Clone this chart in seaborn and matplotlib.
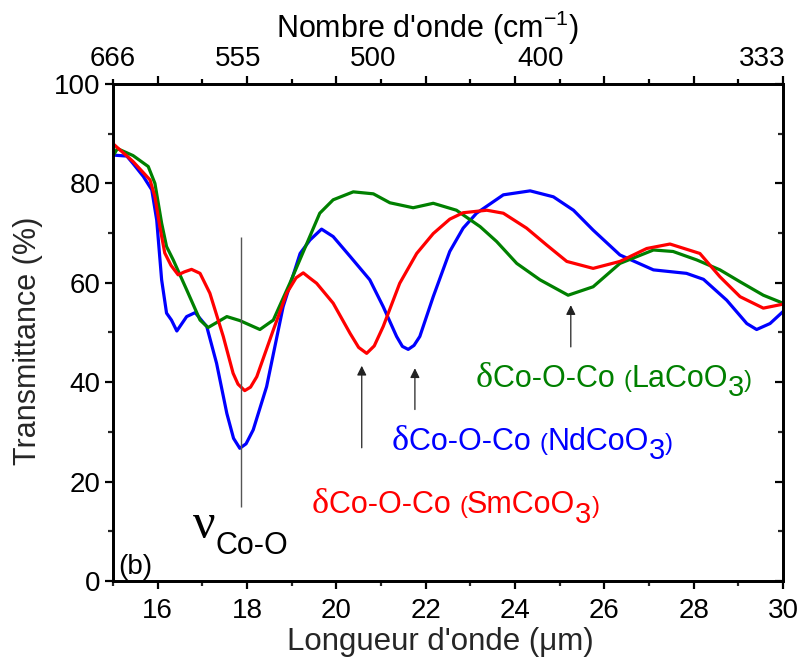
import matplotlib
matplotlib.use("Agg")
import matplotlib.pyplot as plt
import seaborn as sns
import numpy as np

# Spectra (wavelength in µm, transmittance in %)
sm_x = [15.0, 15.45, 15.83, 15.94, 16.05, 16.16, 16.3, 16.46, 16.6, 16.76, 16.95,
        17.17, 17.47, 17.69, 17.8, 17.95, 18.08, 18.22, 18.59, 18.89, 19.1, 19.26,
        19.4, 19.56, 19.93, 20.31, 20.5, 20.68, 20.85, 21.05, 21.42, 21.8, 22.17,
        22.54, 22.84, 23.37, 23.74, 24.26, 24.71, 25.16, 25.75, 26.35, 26.95, 27.47,
        28.14, 28.59, 29.04, 29.56, 30.0]
sm_y = [88.0, 84.4, 80.7, 77.3, 71.3, 66.0, 63.5, 61.6, 62.2, 62.7, 61.9,
        57.9, 49.2, 41.8, 39.6, 38.3, 39.0, 41.1, 50.5, 57.9, 61.0, 62.0,
        61.0, 59.9, 55.9, 49.8, 47.0, 45.8, 47.3, 51.2, 59.9, 65.9, 69.9,
        72.8, 74.1, 74.6, 74.0, 71.0, 67.6, 64.3, 62.9, 64.3, 66.9, 67.8,
        65.9, 61.2, 57.2, 54.9, 55.7]

nd_x = [15.0, 15.31, 15.45, 15.68, 15.87, 15.98, 16.09, 16.2, 16.31, 16.43, 16.65,
        16.84, 17.1, 17.32, 17.55, 17.7, 17.84, 17.98, 18.14, 18.44, 18.81, 19.19,
        19.41, 19.67, 19.93, 20.31, 20.75, 21.05, 21.35, 21.48, 21.61, 21.74, 21.87,
        22.17, 22.54, 22.84, 23.14, 23.74, 24.34, 24.86, 25.31, 25.75, 26.35, 27.1,
        27.84, 28.22, 28.74, 29.19, 29.41, 29.71, 30.0]
nd_y = [85.7, 85.5, 84.0, 81.4, 78.7, 72.6, 60.6, 53.9, 52.5, 50.3, 53.2,
        54.0, 51.2, 43.8, 33.7, 28.7, 26.7, 27.6, 30.4, 39.1, 55.2, 65.9,
        68.6, 70.8, 69.3, 65.3, 60.6, 55.2, 49.2, 47.2, 46.6, 47.4, 49.2,
        57.2, 66.3, 71.0, 74.0, 77.7, 78.5, 77.3, 74.6, 70.6, 65.6, 62.6,
        61.9, 60.7, 56.5, 51.8, 50.6, 51.8, 54.2]

la_x = [15.0, 15.1, 15.45, 15.79, 15.94, 16.09, 16.2, 16.35, 16.65, 16.95, 17.13,
        17.55, 17.84, 18.29, 18.59, 18.96, 19.34, 19.63, 19.93, 20.38, 20.83, 21.2,
        21.72, 22.17, 22.69, 23.22, 23.59, 24.04, 24.56, 25.19, 25.75, 26.35, 27.1,
        27.54, 28.07, 28.59, 29.04, 29.56, 30.0]
la_y = [85.5, 87.0, 85.6, 83.4, 80.0, 72.0, 67.3, 64.6, 58.6, 52.5, 51.0,
        53.2, 52.4, 50.6, 52.5, 59.9, 67.9, 74.0, 76.7, 78.3, 77.9, 76.1,
        75.1, 76.0, 74.6, 71.3, 68.3, 63.9, 60.6, 57.5, 59.2, 63.9, 66.6,
        66.3, 64.6, 62.6, 60.2, 57.5, 55.9]

# top axis (wavenumber) labels and where they sit along the wavelength axis
top_labels = ["666", "555", "500", "400", "333"]
top_label_pos = [15.0, 17.8, 20.82, 24.58, 29.53]

# band markers
arrow_x = [20.57, 21.76, 25.25]
arrow_from = [26.8, 34.5, 47.1]
arrow_to = [43.3, 42.8, 55.5]
nu_line_x = 17.87
nu_line_y = (14.9, 69.3)

sns.set_theme(style="ticks")
plt.rcParams['font.family'] = ['Liberation Sans', 'DejaVu Sans']
plt.rcParams['mathtext.fontset'] = 'custom'
plt.rcParams['mathtext.rm'] = 'Liberation Sans'
plt.rcParams['axes.linewidth'] = 1.8

SERIF = ['Liberation Serif', 'DejaVu Serif']
SANS = ['Liberation Sans', 'DejaVu Sans']

fig = plt.figure(figsize=(8.01, 6.62), dpi=100)
ax = fig.add_axes([0.141, 0.1224, 0.8365, 0.7507])

sns.lineplot(x=nd_x, y=nd_y, color='#0000FF', lw=2.3, sort=False, estimator=None, ax=ax)
sns.lineplot(x=la_x, y=la_y, color='#008000', lw=2.3, sort=False, estimator=None, ax=ax)
sns.lineplot(x=sm_x, y=sm_y, color='#FF0000', lw=2.3, sort=False, estimator=None, ax=ax)

ax.set_xlim(15, 30)
ax.set_ylim(0, 100)
ax.set_xticks(np.arange(16, 31, 2))
ax.set_xticks(np.arange(15, 31, 1), minor=True)
ax.set_yticks(np.arange(0, 101, 20))
ax.set_yticks(np.arange(0, 101, 10), minor=True)
ax.tick_params(axis='both', which='major', direction='out', length=6, width=1.6,
               labelsize=20, colors='black')
ax.tick_params(axis='both', which='minor', direction='out', length=3.5, width=1.6)
ax.tick_params(axis='x', pad=6)
ax.tick_params(axis='y', pad=3)
for s in ax.spines.values():
    s.set_visible(True)
    s.set_color('black')
    s.set_linewidth(1.8)

ax.set_xlabel("Longueur d'onde (μm)", fontsize=22.5)
ax.set_ylabel("Transmittance (%)", fontsize=22)
ax.xaxis.set_label_coords(0.488, -0.093)
ax.yaxis.set_label_coords(-0.104, 0.483)

# right axis: inward ticks, no labels
rax = ax.twinx()
rax.set_ylim(0, 100)
rax.set_yticks(np.arange(0, 101, 20))
rax.set_yticks(np.arange(0, 101, 10), minor=True)
rax.tick_params(axis='y', which='major', direction='in', length=6, width=1.6,
                right=True, left=False, labelright=False, colors='black')
rax.tick_params(axis='y', which='minor', direction='in', length=3.5, width=1.6,
                right=True, left=False)
rax.grid(False)

# top axis: same wavelength ticks, outward
tax = ax.twiny()
tax.set_xlim(15, 30)
tax.set_xticks(np.arange(16, 31, 2))
tax.set_xticks(np.arange(15, 31, 1), minor=True)
tax.xaxis.set_ticks_position('top')
tax.tick_params(axis='x', which='major', direction='out', length=6, width=1.6,
                labeltop=False, color='black')
tax.tick_params(axis='x', which='minor', direction='out', length=3.5, width=1.6,
                color='black')
tax.grid(False)
for a in (rax, tax):
    for s in a.spines.values():
        s.set_linewidth(1.8)
        s.set_color('black')

# wavenumber labels along the top
for pos, lab in zip(top_label_pos, top_labels):
    ax.annotate(lab, xy=(pos, 1), xycoords=ax.get_xaxis_transform(),
                xytext=(0, 18), textcoords='offset points',
                ha='center', va='center', fontsize=20, color='black')
ax.text(0.469, 1.113, "Nombre d'onde (cm$^{-1}$)", transform=ax.transAxes,
        ha='center', va='center', fontsize=22, color='black')


def chain(x, y, parts, color):
    # parts: (text, size, family, dy in points); all share one baseline
    prev = None
    for s, size, fam, dy in parts:
        if prev is None:
            prev = ax.text(x, y, s, fontsize=size, family=fam, color=color,
                           va='baseline', ha='left')
        else:
            prev = ax.annotate(s, xy=(1, y), xycoords=(prev, 'data'),
                               xytext=(0, dy), textcoords='offset points',
                               fontsize=size, family=fam, color=color,
                               va='baseline', ha='left')


def delta_label(x, y, compound, color):
    chain(x, y, [('δ', 26, SERIF, 0), ('Co-O-Co ', 22, SANS, 0), ('(', 17, SANS, 0),
                 (compound, 22, SANS, 0), ('3', 21, SANS, -7), (')', 17, SANS, 0)], color)


delta_label(23.13, 39.1, 'LaCoO', '#008000')
delta_label(21.24, 26.4, 'NdCoO', '#0000FF')
delta_label(19.45, 13.6, 'SmCoO', '#FF0000')
chain(16.80, 8.6, [('ν', 36, SERIF, 0), ('Co-O', 22, SANS, -11)], 'black')
ax.text(15.11, 1.4, '(b)', fontsize=20, va='baseline', ha='left', color='black')

ax.vlines(nu_line_x, nu_line_y[0], nu_line_y[1], color='#555555', lw=1)
for xa, y0, y1 in zip(arrow_x, arrow_from, arrow_to):
    ax.annotate('', xy=(xa, y1), xytext=(xa, y0),
                arrowprops=dict(arrowstyle='-|>', color='#222222', lw=0.9,
                                mutation_scale=14, shrinkA=0, shrinkB=0))

fig.savefig('out.png', dpi=100)
